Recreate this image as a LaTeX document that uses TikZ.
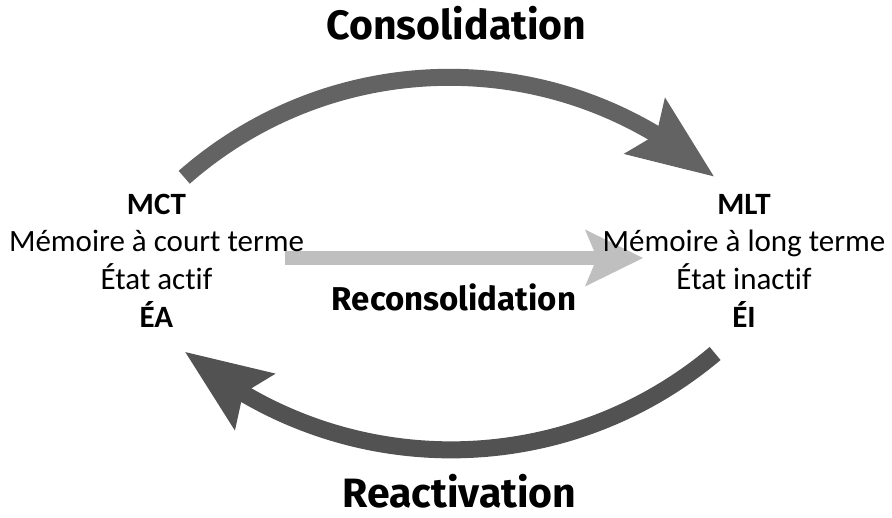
\documentclass[tikz,border=0pt]{standalone}
\usepackage{fontspec}
\setmainfont{Carlito}[Ligatures={NoCommon}]
\newfontfamily\titlefont{Fira Sans}[Ligatures={NoCommon}]
\usetikzlibrary{arrows.meta,bending}
\definecolor{arrowtop}{HTML}{636363}
\definecolor{arrowbot}{HTML}{525252}
\definecolor{arrowmid}{HTML}{BFBFBF}
\begin{document}
\begin{tikzpicture}[x=1pt,y=1pt,
  body/.style={font=\fontsize{31}{37.8}\selectfont, align=center, inner sep=0pt, anchor=base},
  ttl/.style={font=\titlefont\bfseries\fontsize{41}{41}\selectfont, inner sep=0pt, anchor=base},
  smallttl/.style={font=\titlefont\bfseries\fontsize{33}{33}\selectfont, inner sep=0pt, anchor=base},
  bigarrow/.style={line width=17pt, -{Stealth[length=86pt,width=70pt,inset=15pt,line width=0pt]}},
  midarrow/.style={arrowmid, line width=14pt, -{Stealth[length=58pt,width=57pt,inset=12pt,line width=0pt]}}]
\useasboundingbox (0,0) rectangle (892,518);

% arrows (drawn first, text on top)
\coordinate (consS) at (184.2,340.7);
\coordinate (reacS) at (715.1,164.5);
\coordinate (recS) at (285,260);
\coordinate (recE) at (643,260);
\draw[arrowtop, bigarrow] (consS) arc[start angle=131.3, end angle=48.9, radius=402];
\draw[arrowbot, bigarrow] (reacS) arc[start angle=-49.9, end angle=-130.4, radius=410];
\draw[midarrow] (recS) -- (recE);

% text blocks (base anchor = baseline of the last line)
\node[body] (mct) at (156.5,190.5) {\textbf{MCT}\\Mémoire à court terme\\État actif\\\textbf{ÉA}};
\node[body] (mlt) at (744,190.5) {\textbf{MLT}\\Mémoire à long terme\\État inactif\\\textbf{ÉI}};

% labels
\node[ttl] (cons) at (456.5,478) {Consolidation};
\node[smallttl] (recons) at (454,207) {Reconsolidation};
\node[ttl, text depth=0pt] (react) at (459.5,10.5) {Reactivation};
\end{tikzpicture}
\end{document}
